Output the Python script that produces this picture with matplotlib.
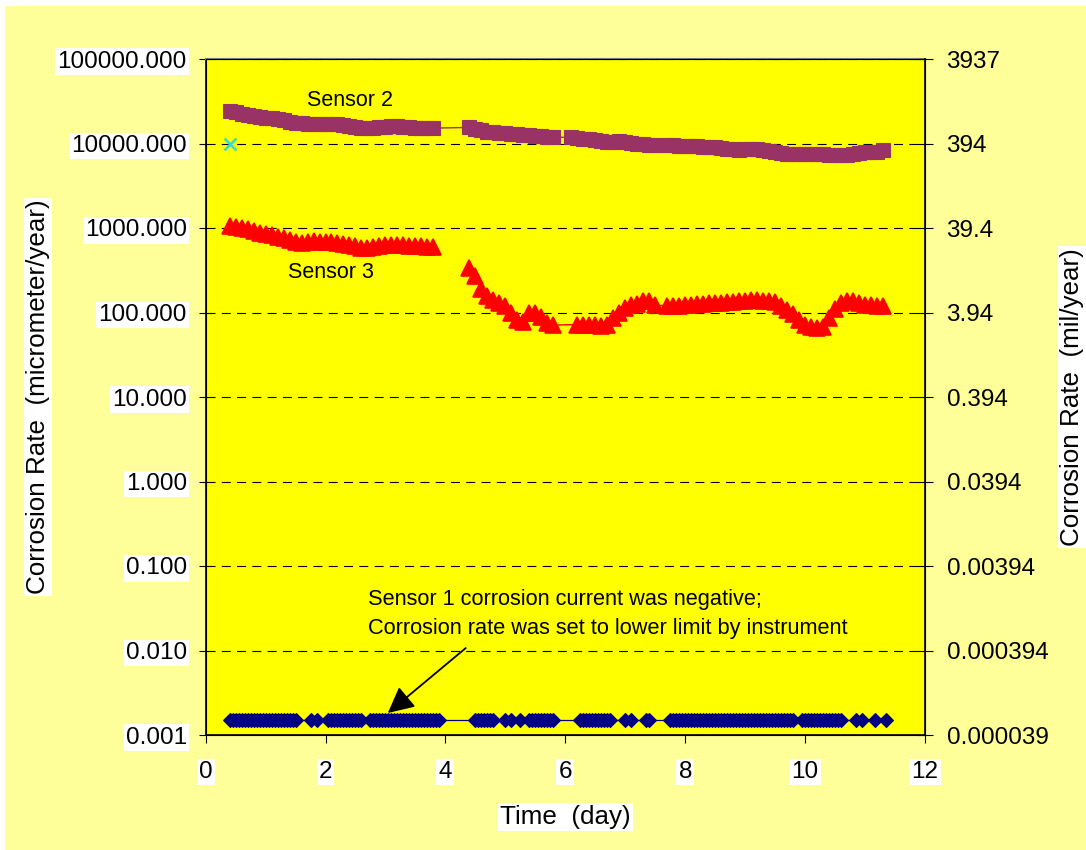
import numpy as np
import matplotlib.pyplot as plt
from matplotlib.patches import Rectangle
from matplotlib.ticker import NullLocator

plt.rcParams['font.family'] = ['Liberation Sans', 'DejaVu Sans']
plt.rcParams['lines.scale_dashes'] = False

# --- data (time in days, rate in micrometer/year) ---
sensor2_t = [0.4, 0.5, 0.6, 0.7, 0.8, 0.9, 1.0, 1.1, 1.2, 1.3, 1.4, 1.5, 1.6, 1.7, 1.8,
             1.9, 2.0, 2.1, 2.2, 2.3, 2.4, 2.5, 2.6, 2.7, 2.8, 2.9, 3.0, 3.1, 3.2, 3.3,
             3.4, 3.5, 3.6, 3.7, 3.8,
             4.4, 4.5, 4.6, 4.7, 4.8, 4.9, 5.0, 5.1, 5.2, 5.3, 5.4, 5.5, 5.6, 5.7, 5.8,
             6.1, 6.2, 6.3, 6.4, 6.5, 6.6, 6.7, 6.8, 6.9, 7.0, 7.1, 7.2, 7.3, 7.4, 7.5,
             7.7, 7.8, 7.9, 8.0, 8.1, 8.2, 8.3, 8.4, 8.5, 8.6, 8.7, 8.8, 8.9, 9.0, 9.1,
             9.2, 9.3, 9.4, 9.5, 9.6, 9.7, 9.8, 9.9, 10.0, 10.1, 10.2, 10.3, 10.4, 10.5,
             10.6, 10.7, 10.8, 10.9, 11.0, 11.1, 11.2, 11.3]
sensor2_v = [24000, 23500, 22500, 21800, 21000, 20600, 20300, 19900, 19300, 18800,
             18200, 17600, 17300, 17200, 17100, 17000, 17000, 17000, 16900, 16500,
             16200, 15800, 15400, 15200, 15300, 15500, 15700, 15900, 16000, 15800,
             15500, 15300, 15200, 15100, 15200,
             15500, 14800, 14300, 13800, 13500, 13300, 13200, 13000, 12900, 12700,
             12500, 12400, 12200, 12000, 11900,
             11800, 11600, 11400, 11300, 11000, 10700, 10400, 10500, 10600, 10400,
             10200, 9900, 9800, 9600, 9500,
             9500, 9500, 9450, 9400, 9400, 9300, 9200, 9100, 9000, 8800,
             8650, 8500, 8450, 8500, 8600, 8600, 8400, 8100, 7900, 7700,
             7550, 7500, 7500, 7500, 7550, 7500, 7500, 7400, 7350, 7300,
             7400, 7550, 7650, 7850, 8000, 8000, 8300]

sensor3a_t = [0.4, 0.5, 0.6, 0.7, 0.8, 0.9, 1.0, 1.1, 1.2, 1.3, 1.4, 1.5, 1.6, 1.7, 1.8,
              1.9, 2.0, 2.1, 2.2, 2.3, 2.4, 2.5, 2.6, 2.7, 2.8, 2.9, 3.0, 3.1, 3.2, 3.3,
              3.4, 3.5, 3.6, 3.7, 3.8]
sensor3a_v = [1060, 1040, 1000, 960, 920, 880, 860, 830, 790, 760,
              720, 690, 670, 690, 700, 690, 690, 680, 660, 640,
              630, 610, 585, 580, 600, 615, 625, 630, 630, 625,
              615, 610, 605, 600, 600]
sensor3b_t = [4.4, 4.5, 4.6, 4.7, 4.8, 4.9, 5.0, 5.1, 5.2, 5.3, 5.4, 5.5, 5.6, 5.7, 5.8,
              6.2, 6.3, 6.4, 6.5, 6.6, 6.7, 6.8, 6.9, 7.0, 7.1, 7.2, 7.3, 7.4, 7.5,
              7.7, 7.8, 7.9, 8.0, 8.1, 8.2, 8.3, 8.4, 8.5, 8.6, 8.7, 8.8, 8.9, 9.0, 9.1,
              9.2, 9.3, 9.4, 9.5, 9.6, 9.7, 9.8, 9.9, 10.0, 10.1, 10.2, 10.3, 10.4, 10.5,
              10.6, 10.7, 10.8, 10.9, 11.0, 11.1, 11.2, 11.3]
sensor3b_v = [340, 270, 190, 155, 140, 128, 120, 98, 82, 78, 100, 98, 88, 75, 71,
              72, 72, 72, 71, 69, 72, 85, 98, 112, 122, 125, 138, 135, 122,
              120, 120, 121, 122, 123, 125, 127, 128, 129, 130,
              132, 134, 135, 138, 141, 139, 137, 136, 132, 120,
              108, 95, 82, 72, 67, 66, 68, 85, 110, 130,
              136, 138, 130, 124, 122, 121, 119]

# sensor 1 sat at the instrument's lower limit the whole time
sensor1_t = [0.40, 0.45, 0.50, 0.55, 0.60, 0.65, 0.70, 0.75, 0.80, 0.85, 0.90, 0.95,
             1.00, 1.05, 1.10, 1.15, 1.20, 1.25, 1.30, 1.35, 1.40, 1.45, 1.50,
             1.75, 1.85,
             2.05, 2.10, 2.15, 2.20, 2.25, 2.30, 2.35, 2.40, 2.45, 2.50, 2.55, 2.60,
             2.75, 2.80, 2.85, 2.90, 2.95, 3.00, 3.05, 3.10, 3.15, 3.20, 3.25, 3.30,
             3.35, 3.40, 3.45, 3.50, 3.55, 3.60, 3.65, 3.70, 3.75, 3.80, 3.85, 3.90,
             4.50, 4.55, 4.60, 4.65, 4.70, 4.75, 4.80,
             5.00, 5.10, 5.25,
             5.40, 5.45, 5.50, 5.55, 5.60, 5.65, 5.70, 5.75, 5.80,
             6.25, 6.30, 6.35, 6.40, 6.45, 6.50, 6.55, 6.60, 6.65, 6.70, 6.75,
             7.00, 7.10, 7.35, 7.40,
             7.75, 7.80, 7.85, 7.90, 7.95, 8.00, 8.05, 8.10, 8.15, 8.20, 8.25, 8.30,
             8.35, 8.40, 8.45, 8.50, 8.55, 8.60, 8.65, 8.70, 8.75, 8.80, 8.85, 8.90,
             8.95, 9.00, 9.05, 9.10, 9.15, 9.20, 9.25, 9.30, 9.35, 9.40, 9.45, 9.50,
             9.55, 9.60, 9.65, 9.70, 9.75, 9.80,
             9.95, 10.00, 10.05, 10.10, 10.15, 10.20, 10.25, 10.30, 10.35, 10.40,
             10.45, 10.50, 10.55, 10.60,
             10.85, 10.95, 11.17, 11.35]
sensor1_limit = 0.0015

extra_t = [0.4]
extra_v = [10000]

x_ticks = [0, 2, 4, 6, 8, 10, 12]
y_ticks = [0.001, 0.01, 0.1, 1, 10, 100, 1000, 10000, 100000]
right_labels = ['0.000039', '0.000394', '0.00394', '0.0394', '0.394',
                '3.94', '39.4', '394', '3937']

fig = plt.figure(figsize=(10.86, 8.5), dpi=100, facecolor='white')
fig.patches.append(Rectangle((5 / 1086, 0), 1, 1 - 6 / 850, transform=fig.transFigure,
                             facecolor='#FFFF99', edgecolor='none', zorder=-10))
ax = fig.add_axes([205.6 / 1086, 1 - 735 / 850, 719.4 / 1086, 676 / 850])
ax.set_facecolor('#FFFF00')

ax.plot(sensor1_t, np.full(len(sensor1_t), sensor1_limit), color='#000080', lw=0.9,
        marker='D', ms=7.0, mew=0.8, mfc='#000080', mec='#000080', zorder=3)
ax.plot(sensor2_t, sensor2_v, color='#993366', lw=1.0, marker='s', ms=10.2, mew=0.8,
        mfc='#993366', mec='#993366', zorder=3)
ax.plot(sensor3a_t, sensor3a_v, color='#FF0000', lw=1.0, marker='^', ms=12, mew=1.2,
        mfc='#FF0000', mec='#FF0000', zorder=3)
ax.plot(sensor3b_t, sensor3b_v, color='#FF0000', lw=1.0, marker='^', ms=12, mew=1.2,
        mfc='#FF0000', mec='#FF0000', zorder=3)
ax.plot(extra_t, extra_v, ls='none', marker='x', ms=9, mew=1.8, color='#20E0E8', zorder=3)

ax.set_yscale('log')
ax.set_ylim(0.001, 100000)
ax.set_xlim(0, 12)
ax.set_xticks(x_ticks)
ax.set_yticks(y_ticks, labels=['%.3f' % v for v in y_ticks])
ax.yaxis.set_minor_locator(NullLocator())
ax.grid(axis='y', color='black', linestyle=(0, (6.5, 4.5)), lw=0.8)
ax.tick_params(axis='y', direction='out', length=5, width=0.8, pad=8.5, labelsize=17.5)
ax.tick_params(axis='x', direction='out', length=6, width=0.8, pad=12.5, labelsize=17.5)
for side in ['left', 'bottom']:
    ax.spines[side].set_linewidth(1.2)
ax.spines['top'].set_color('#808080')
ax.spines['top'].set_linewidth(1.5)

ax2 = ax.twinx()
ax2.set_yscale('log')
ax2.set_ylim(ax.get_ylim())
ax2.set_yticks(y_ticks, labels=right_labels)
ax2.yaxis.set_minor_locator(NullLocator())
ax2.tick_params(axis='y', direction='inout', length=11, width=0.8, pad=10, labelsize=17.5)
ax2.spines['right'].set_linewidth(1.2)

box = dict(facecolor='white', edgecolor='none', pad=1.5)
ax.set_ylabel('Corrosion Rate  (micrometer/year)', fontsize=18.7, va='center', bbox=box)
ax.yaxis.set_label_coords(-0.233, 0.5)
ax2.set_ylabel('Corrosion Rate  (mil/year)', fontsize=18.7, va='center', bbox=box)
ax2.yaxis.set_label_coords(1.204, 0.5)
ax.set_xlabel('Time  (day)', fontsize=18.7, va='center', bbox=box)
ax.xaxis.set_label_coords(0.5, -0.121)

ax.text(2.41, 32700, 'Sensor 2', fontsize=15.5, ha='center', va='center')
ax.text(2.09, 301, 'Sensor 3', fontsize=15.5, ha='center', va='center')
ax.text(2.71, 0.027, 'Sensor 1 corrosion current was negative;\n'
        'Corrosion rate was set to lower limit by instrument',
        fontsize=15.7, ha='left', va='center', linespacing=1.45)
ax.annotate('', xy=(3.04, 0.00182), xytext=(4.34, 0.0107),
            arrowprops=dict(arrowstyle='-|>', color='black', lw=1.3,
                            mutation_scale=40, shrinkA=0, shrinkB=0))

fig.canvas.draw()
for lab in ax.get_yticklabels() + ax.get_xticklabels():
    lab.set_bbox(box)

fig.savefig('out.png', dpi=100, facecolor=fig.get_facecolor())
